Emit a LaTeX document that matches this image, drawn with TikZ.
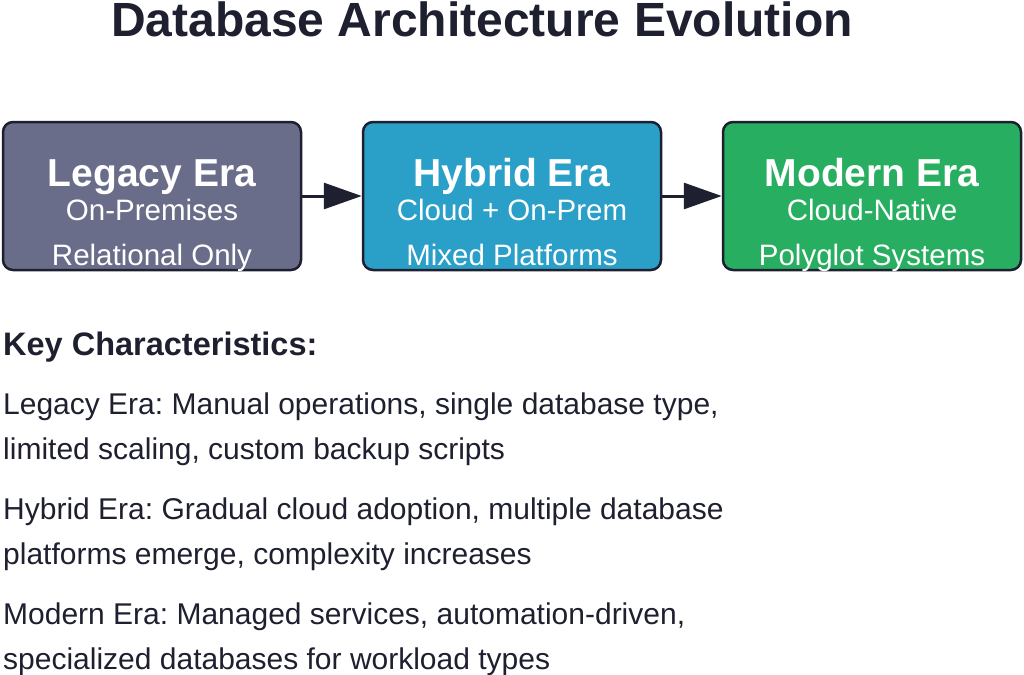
\documentclass[tikz,border=0pt]{standalone}
\usepackage{fontspec}
\setmainfont{Liberation Sans}
\usetikzlibrary{arrows.meta}
\frenchspacing
\definecolor{ink}{HTML}{1E2030}
\definecolor{legacyc}{HTML}{6A6D89}
\definecolor{hybridc}{HTML}{2A9FC7}
\definecolor{modernc}{HTML}{27AE60}
\begin{document}
\begin{tikzpicture}[x=1pt,y=-1pt,
  era/.style={draw=ink, line width=2.5pt, rounded corners=10pt, minimum width=298pt, minimum height=148pt, inner sep=0pt},
  eratitle/.style={anchor=base, text=white, inner sep=0pt, font=\fontsize{39}{39}\selectfont\bfseries},
  erasub/.style={anchor=base, text=white, inner sep=0pt, font=\fontsize{29.5}{29.5}\selectfont},
  body/.style={anchor=base west, text=ink, inner sep=0pt, font=\fontsize{30}{30}\selectfont},
  flow/.style={draw=ink, line width=3pt, -{Triangle[length=38pt,width=26pt]}}]
\useasboundingbox (0,0) rectangle (1024,674);
\node[anchor=base, text=ink, inner sep=0pt, font=\fontsize{48}{48}\selectfont\bfseries] (title) at (482,37) {Database Architecture Evolution};

\node[era, fill=legacyc] (legacy) at (152,196) {};
\node[era, fill=hybridc] (hybrid) at (512,196) {};
\node[era, fill=modernc] (modern) at (872,196) {};

\node[eratitle] (legacyt) at (152,186) {Legacy Era};
\node[erasub] (legacys1) at (152,220) {On-Premises};
\node[erasub] (legacys2) at (152,265) {Relational Only};

\node[eratitle] (hybridt) at (512,186) {Hybrid Era};
\node[erasub] (hybrids1) at (512,220) {Cloud + On-Prem};
\node[erasub] (hybrids2) at (512,265) {Mixed Platforms};

\node[eratitle] (modernt) at (872,186) {Modern Era};
\node[erasub] (moderns1) at (872,220) {Cloud-Native};
\node[erasub] (moderns2) at (872,265) {Polyglot Systems};

\draw[flow] (legacy.east) -- (hybrid.west);
\draw[flow] (hybrid.east) -- (modern.west);

\node[body, font=\fontsize{32.5}{32.5}\selectfont\bfseries] (key) at (3,355) {Key Characteristics:};
\node[body] (l1) at (3,414) {Legacy Era: Manual operations, single database type,};
\node[body] (l2) at (3,459) {limited scaling, custom backup scripts};
\node[body] (h1) at (3,519) {Hybrid Era: Gradual cloud adoption, multiple database};
\node[body] (h2) at (3,564) {platforms emerge, complexity increases};
\node[body] (m1) at (3,624) {Modern Era: Managed services, automation-driven,};
\node[body] (m2) at (3,669) {specialized databases for workload types};
\end{tikzpicture}
\end{document}
